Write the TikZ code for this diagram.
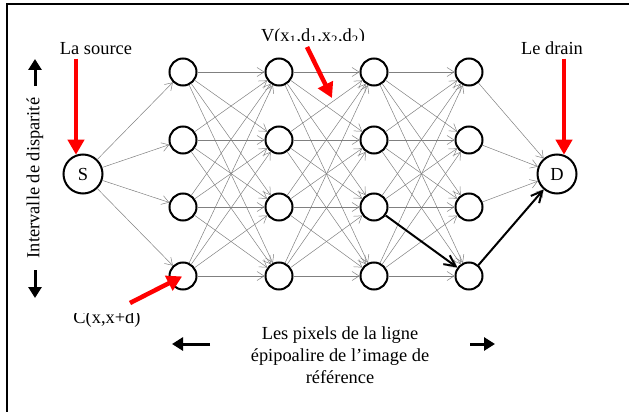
\documentclass[tikz,border=0pt]{standalone}
\usepackage{fontspec}
\setmainfont{Liberation Serif}
\usetikzlibrary{arrows.meta}
\begin{document}
\begin{tikzpicture}[x=1pt, y=-1pt, font=\fontsize{18.4}{22}\selectfont,
		n/.style={circle, draw, line width=2pt, minimum size=27pt, inner sep=0pt},
		sd/.style={n, minimum size=39pt},
		lien/.style={draw=gray, line width=0.5pt, -{Straight Barb[length=7pt, width=9pt]}},
		chemin/.style={line width=2pt, -{Straight Barb[length=11pt, width=11pt]}},
		rouge/.style={red, line width=4.5pt, -{Triangle[length=15pt, width=16pt]}},
		fleche/.style={line width=3pt, -{Triangle[length=11pt, width=13pt]}}]
			\useasboundingbox (0,0) rectangle (629,412);
			\draw[line width=2.3pt] (7,412) -- (7,4) -- (629,4);

			\node[sd] (s) at (83,174) {S};
			\node[sd] (d) at (557,174) {D};
			\foreach \c/\x in {1/183, 2/279, 3/374, 4/469}
				\foreach \r/\y in {1/72, 2/140, 3/207, 4/276}
					\node[n] (p\c\r) at (\x,\y) {};

			% graphe
			\foreach \r in {1,...,4} {
				\draw[lien] (s) -- (p1\r);
				\draw[lien] (p4\r) -- (d);
			}
			\foreach \c/\cc in {1/2, 2/3, 3/4}
				\foreach \r in {1,...,4}
					\foreach \rr in {1,...,4}
						\draw[lien] (p\c\r) -- (p\cc\rr);
			\draw[chemin] (p33) -- (p44);
			\draw[chemin] (p44) -- (d);

			% legendes
			\node[anchor=base] (source) at (96,55) {La source};
			\node[anchor=base] (drain) at (552,55) {Le drain};
			\draw[rouge] (source.south -| s.110) -- (s.110);
			\draw[rouge] (drain.south -| d.70) -- (d.70);

			\begin{scope}
				\clip (240,15) rectangle (390,41);
				\node[anchor=base] (vlab) at (313,41.5) {V(x\textsubscript{1},d\textsubscript{1},x\textsubscript{2},d\textsubscript{2})};
			\end{scope}
			\coordinate (va) at (307,47);
			\coordinate (vb) at (332,98);
			\draw[rouge] (va) -- (vb);

			\begin{scope}
				\clip (60,313) rectangle (160,340);
				\node[anchor=base] (clab) at (107,323) {C(x,x+d)};
			\end{scope}
			\coordinate (ca) at (130,303);
			\draw[rouge, shorten >=1pt] (ca) -- (p14.center);

			\node[rotate=90] (interv) at (35,178) {Intervalle de disparité};
			\coordinate (ha) at (35,86);
			\coordinate (hb) at (35,59);
			\coordinate (ba) at (35,270);
			\coordinate (bb) at (35,298);
			\draw[fleche] (ha) -- (hb);
			\draw[fleche] (ba) -- (bb);

			\node[align=center] (pixels) at (340,355) {Les pixels de la ligne\\épipoalire de l’image de\\référence};
			\coordinate (ga) at (210,344);
			\coordinate (gb) at (172,344);
			\coordinate (da) at (470,344);
			\coordinate (db) at (495,344);
			\draw[fleche] (ga) -- (gb);
			\draw[fleche] (da) -- (db);
		\end{tikzpicture}
\end{document}
